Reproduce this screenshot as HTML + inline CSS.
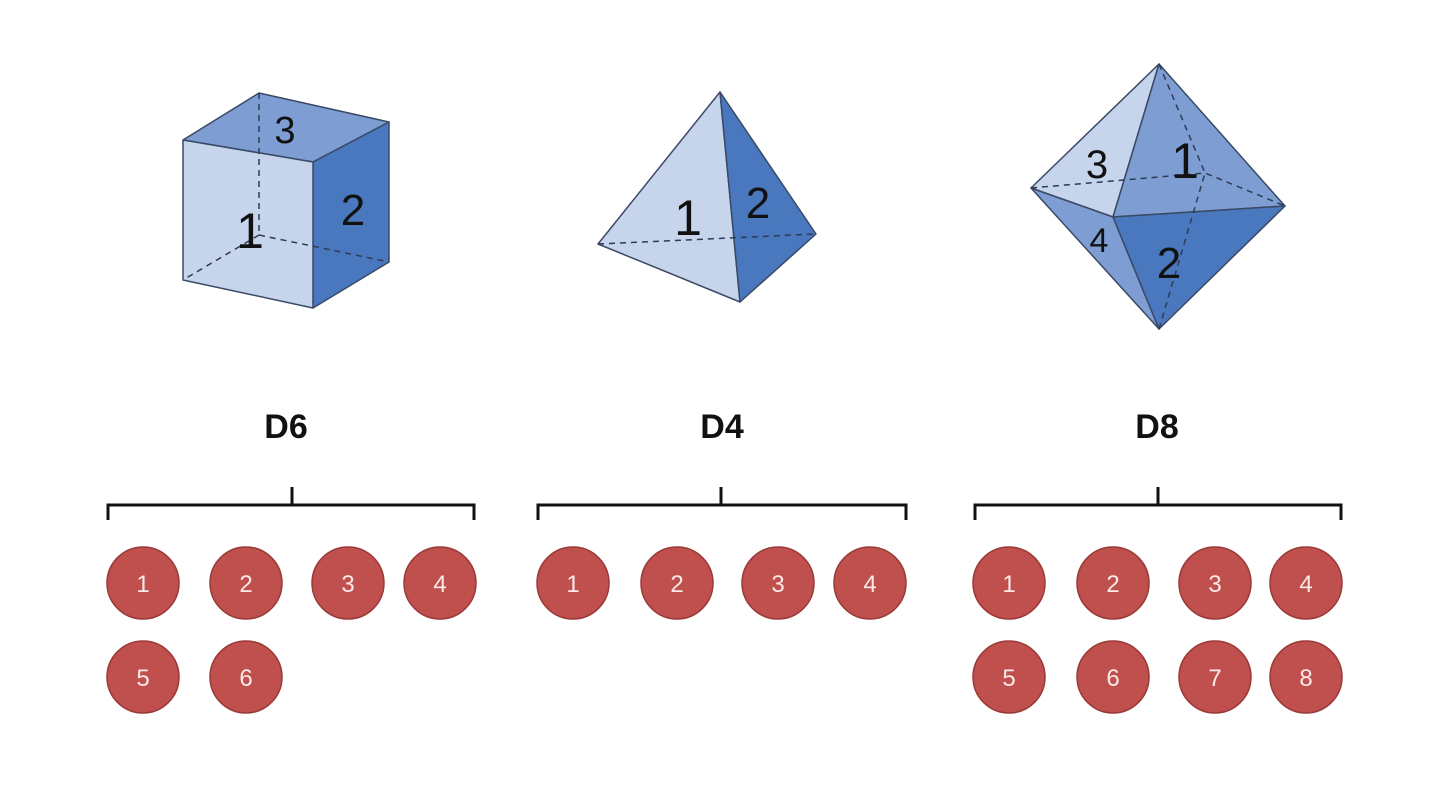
<!DOCTYPE html>
<html><head><style>body{margin:0;background:#fff}</style></head><body>
<svg width="1440" height="794" xmlns="http://www.w3.org/2000/svg" font-family="Liberation Sans, sans-serif">
<rect width="1440" height="794" fill="#fff"/>
<!-- cube -->
<g stroke="#3a4a66" stroke-width="1.5" stroke-linejoin="round">
<polygon points="183,140 259,93 389,122 313,162" fill="#7e9dd2"/>
<polygon points="313,162 389,122 389,262 313,308" fill="#4a78be"/>
<polygon points="183,140 313,162 313,308 183,280" fill="#c6d4ec"/>
</g>
<g stroke="#2e3b55" stroke-width="1.5" stroke-dasharray="6,5" fill="none">
<line x1="259" y1="93" x2="259" y2="235"/><line x1="259" y1="235" x2="183" y2="280"/><line x1="259" y1="235" x2="389" y2="262"/>
</g>
<text x="285" y="143" font-size="38" text-anchor="middle" fill="#111">3</text>
<text x="250" y="248" font-size="50" text-anchor="middle" fill="#111">1</text>
<text x="353" y="225" font-size="44" text-anchor="middle" fill="#111">2</text>
<!-- tetra -->
<g stroke="#3a4a66" stroke-width="1.5" stroke-linejoin="round">
<polygon points="720,92 598,244 740,302" fill="#c6d4ec"/>
<polygon points="720,92 740,302 816,234" fill="#4a78be"/>
</g>
<line x1="598" y1="244" x2="816" y2="234" stroke="#2e3b55" stroke-width="1.5" stroke-dasharray="6,5"/>
<text x="688" y="235" font-size="50" text-anchor="middle" fill="#111">1</text>
<text x="758" y="218" font-size="44" text-anchor="middle" fill="#111">2</text>
<!-- octa -->
<g stroke="#3a4a66" stroke-width="1.5" stroke-linejoin="round">
<polygon points="1159,64 1031,188 1113,217" fill="#c6d4ec"/>
<polygon points="1159,64 1113,217 1285,206" fill="#7e9dd2"/>
<polygon points="1031,188 1113,217 1159,329" fill="#7e9dd2"/>
<polygon points="1113,217 1285,206 1159,329" fill="#4a78be"/>
</g>
<g stroke="#2e3b55" stroke-width="1.5" stroke-dasharray="6,5" fill="none">
<polyline points="1031,188 1205,173 1285,206"/><polyline points="1159,64 1205,173 1159,329"/>
</g>
<text x="1097" y="178" font-size="40" text-anchor="middle" fill="#111">3</text>
<text x="1185" y="178" font-size="50" text-anchor="middle" fill="#111">1</text>
<text x="1099" y="252" font-size="34" text-anchor="middle" fill="#111">4</text>
<text x="1169" y="278" font-size="44" text-anchor="middle" fill="#111">2</text>
<!-- labels -->
<g font-size="34" font-weight="bold" text-anchor="middle" fill="#111">
<text x="286" y="438">D6</text><text x="722" y="438">D4</text><text x="1157" y="438">D8</text>
</g>
<g stroke="#111" stroke-width="3" fill="none">
<path d="M108,520 V505 H474 V520 M292,505 V487"/>
<path d="M538,520 V505 H906 V520 M721,505 V487"/>
<path d="M975,520 V505 H1341 V520 M1158,505 V487"/>
</g>
<g fill="#c0504d" stroke="#9a3a38" stroke-width="1.5">
<circle cx="143" cy="583" r="36"/><circle cx="246" cy="583" r="36"/><circle cx="348" cy="583" r="36"/><circle cx="440" cy="583" r="36"/>
<circle cx="143" cy="677" r="36"/><circle cx="246" cy="677" r="36"/>
<circle cx="573" cy="583" r="36"/><circle cx="677" cy="583" r="36"/><circle cx="778" cy="583" r="36"/><circle cx="870" cy="583" r="36"/>
<circle cx="1009" cy="583" r="36"/><circle cx="1113" cy="583" r="36"/><circle cx="1215" cy="583" r="36"/><circle cx="1306" cy="583" r="36"/>
<circle cx="1009" cy="677" r="36"/><circle cx="1113" cy="677" r="36"/><circle cx="1215" cy="677" r="36"/><circle cx="1306" cy="677" r="36"/>
</g>
<g fill="#fbe9e8" font-size="24" text-anchor="middle">
<text x="143" y="592">1</text><text x="246" y="592">2</text><text x="348" y="592">3</text><text x="440" y="592">4</text>
<text x="143" y="686">5</text><text x="246" y="686">6</text>
<text x="573" y="592">1</text><text x="677" y="592">2</text><text x="778" y="592">3</text><text x="870" y="592">4</text>
<text x="1009" y="592">1</text><text x="1113" y="592">2</text><text x="1215" y="592">3</text><text x="1306" y="592">4</text>
<text x="1009" y="686">5</text><text x="1113" y="686">6</text><text x="1215" y="686">7</text><text x="1306" y="686">8</text>
</g>
</svg>
</body></html>
